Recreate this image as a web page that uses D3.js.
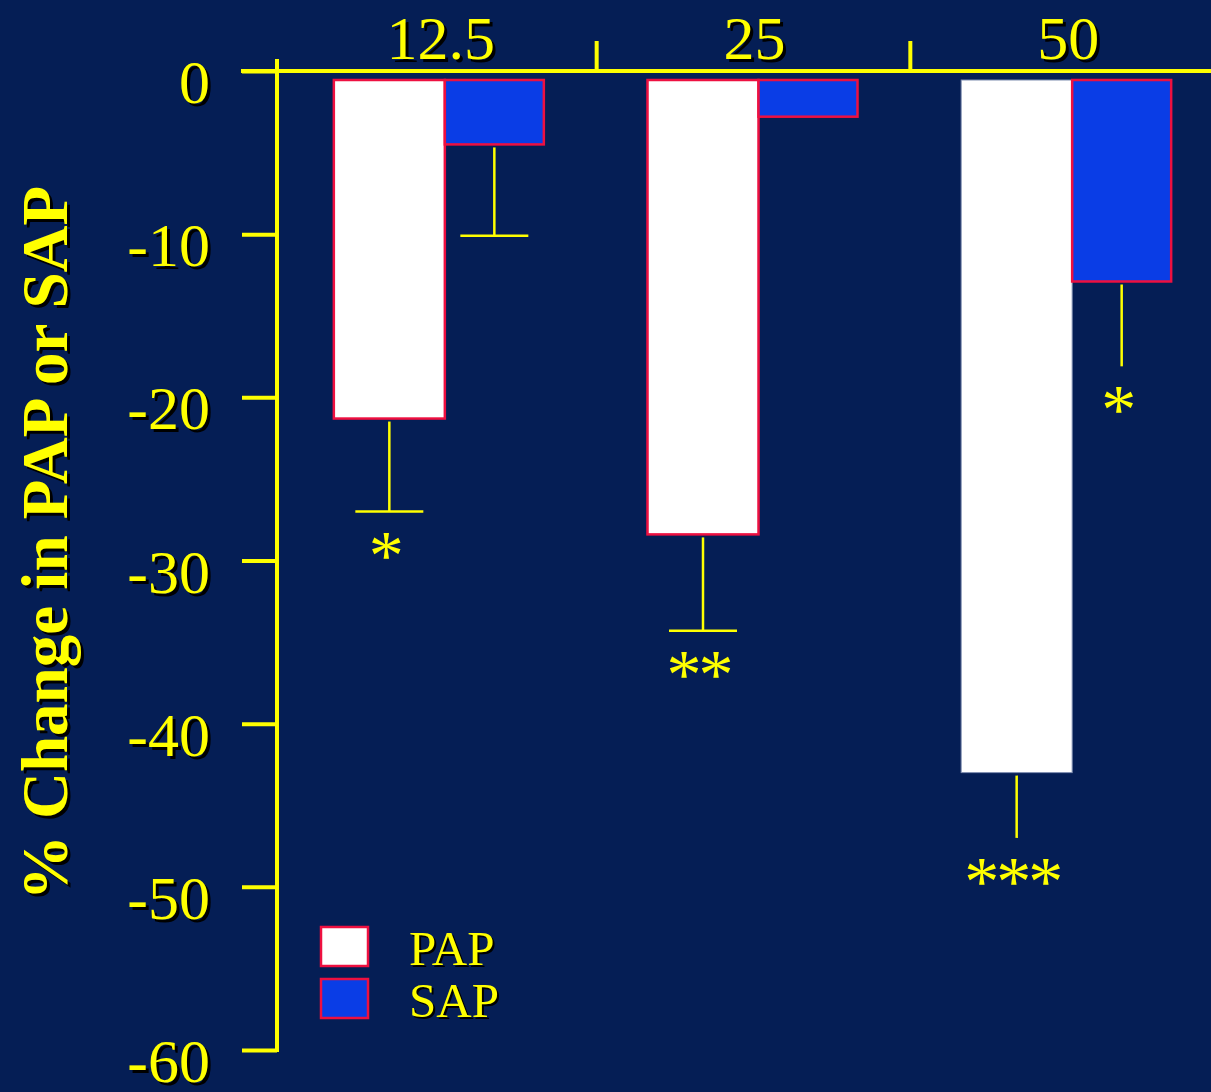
<!DOCTYPE html>
<html>
<head>
<meta charset="utf-8">
<script src="https://cdn.jsdelivr.net/npm/d3@7"></script>
<style>
  html, body { margin: 0; padding: 0; background: #051e55; }
  svg { display: block; }
  text { font-family: "Liberation Serif", "Times New Roman", serif; }
</style>
</head>
<body>
<svg id="chart" width="1211" height="1092"></svg>
<script>
// Dose groups along the top axis
const categories = ["12.5", "25", "50"];
// Mean % change per dose
const papValues = [-21.3, -28.4, -43.0];
const sapValues = [-4.5, -2.8, -12.9];
// Lower end of each error bar (null where no bar is drawn)
const papErrorEnds = [-27.0, -34.3, -47.0];
const sapErrorEnds = [-10.1, null, -18.1];
// Significance markers under each series
const papStars = ["*", "**", "***"];
const sapStars = ["", "", "*"];
// Y axis ticks
const yTicks = [0, -10, -20, -30, -40, -50, -60];
const seriesNames = ["PAP", "SAP"];

const W = 1211, H = 1092;
const BG = "#051e55", YELLOW = "#ffff00", WHITE = "#ffffff", BLUE = "#0a3de6", RED = "#ee1040";

const svg = d3.select("#chart");
svg.append("rect").attr("width", W).attr("height", H).attr("fill", BG);

const axisX = 277;
const y = d3.scaleLinear().domain([0, -60]).range([71, 1050]);
const x = d3.scaleBand().domain(categories).range([283, 1224]);
const center = c => x(c) + x.bandwidth() / 2;

// Yellow text with a black drop shadow
function shadowText(g, attrs, str, opts = {}) {
  const off = opts.off ?? 3;
  const mk = (fill, dx, dy) => {
    const t = g.append("text").text(str).attr("fill", fill);
    for (const k in attrs) t.attr(k, attrs[k]);
    const tr = attrs.transform || "";
    t.attr("transform", `translate(${dx},${dy}) ${tr}`);
    return t;
  };
  mk("#000000", off, off);
  return mk(YELLOW, 0, 0);
}

// ---- bars ----
const barTopGap = 9;
const bars = svg.append("g");
const barDefs = [
  { values: papValues, fill: WHITE, x0: -106, x1: 5 },
  { values: sapValues, fill: BLUE, x0: 5, x1: 104 }
];
// outline for the 50 PAP bar is a thin grey edge instead of red
const outlineOverride = { "0-2": { stroke: "#7f8db0", width: 1 } };

barDefs.forEach((s, si) => {
  s.values.forEach((v, i) => {
    const c = center(categories[i]);
    const ov = outlineOverride[`${si}-${i}`];
    const top = y(0) + barTopGap;
    bars.append("rect")
      .attr("x", c + s.x0)
      .attr("y", top)
      .attr("width", s.x1 - s.x0)
      .attr("height", y(v) - top)
      .attr("fill", s.fill)
      .attr("stroke", ov ? ov.stroke : RED)
      .attr("stroke-width", ov ? ov.width : 2.5);
  });
});

// ---- error bars ----
const errG = svg.append("g").attr("stroke", YELLOW).attr("stroke-width", 2.5);
const capHalf = 34;
const withCap = [true, true, false];
[papErrorEnds, sapErrorEnds].forEach((ends, si) => {
  const s = barDefs[si];
  ends.forEach((e, i) => {
    if (e === null) return;
    const c = center(categories[i]) + (s.x0 + s.x1) / 2;
    const yStart = y(s.values[i]) + 3;
    errG.append("line").attr("x1", c).attr("x2", c).attr("y1", yStart).attr("y2", y(e));
    if (withCap[i]) {
      errG.append("line").attr("x1", c - capHalf).attr("x2", c + capHalf)
        .attr("y1", y(e)).attr("y2", y(e));
    }
  });
});

// ---- significance stars ----
const starG = svg.append("g");
const starSize = 70, starStep = 32;
[[papStars, papErrorEnds], [sapStars, sapErrorEnds]].forEach(([stars, ends], si) => {
  const s = barDefs[si];
  stars.forEach((st, i) => {
    if (!st) return;
    const c = center(categories[i]) + (s.x0 + s.x1) / 2 - 3;
    const base = ends[i] !== null ? y(ends[i]) : y(s.values[i]);
    const n = st.length;
    st.split("").forEach((ch, k) => {
      starG.append("text")
        .attr("x", c + (k - (n - 1) / 2) * starStep)
        .attr("y", base + 67)
        .attr("text-anchor", "middle")
        .attr("font-size", starSize)
        .attr("fill", YELLOW)
        .text(ch);
    });
  });
});

// ---- axes ----
const axG = svg.append("g").attr("stroke", YELLOW).attr("stroke-width", 4).attr("fill", "none");
// top horizontal baseline
axG.append("line").attr("x1", 241).attr("x2", W).attr("y1", y(0)).attr("y2", y(0));
// vertical axis
axG.append("line").attr("x1", axisX).attr("x2", axisX).attr("y1", 59).attr("y2", y(-60) + 2);
// group separators on the top axis
categories.slice(1).forEach(c => {
  axG.append("line").attr("x1", x(c)).attr("x2", x(c)).attr("y1", 41).attr("y2", y(0));
});

// left axis ticks via d3.axisLeft
const yAxis = d3.axisLeft(y).tickValues(yTicks).tickSize(35).tickFormat("");
const yAxisG = svg.append("g").attr("transform", `translate(${axisX},0)`).call(yAxis);
yAxisG.select(".domain").remove();
yAxisG.selectAll(".tick line").attr("stroke", YELLOW).attr("stroke-width", 4);

// y tick labels (plain hyphen for the minus sign)
const yLab = svg.append("g");
yTicks.forEach(t => {
  shadowText(yLab, {
    x: 210, y: y(t) + 32, "text-anchor": "end", "font-size": 62
  }, String(t));
});

// top category labels
const xLab = svg.append("g");
categories.forEach(c => {
  shadowText(xLab, {
    x: center(c) + 1, y: 59, "text-anchor": "middle", "font-size": 62
  }, c);
});

// y axis title
shadowText(svg.append("g"), {
  x: 0, y: 0, "text-anchor": "middle", "font-size": 65, "font-weight": "bold",
  transform: "translate(67,543) rotate(-90)"
}, "% Change in PAP or SAP");

// ---- legend ----
const leg = svg.append("g");
const legFills = [WHITE, BLUE];
seriesNames.forEach((name, i) => {
  const top = 927 + i * 52;
  leg.append("rect").attr("x", 321).attr("y", top).attr("width", 47).attr("height", 39)
    .attr("fill", legFills[i]).attr("stroke", RED).attr("stroke-width", 2.5);
  shadowText(leg, { x: 409, y: top + 38, "font-size": 49 }, name, { off: 2 });
});
</script>
</body>
</html>
